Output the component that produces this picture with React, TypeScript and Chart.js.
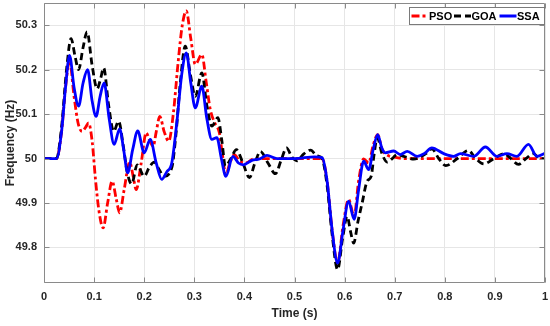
import React, { useEffect, useRef } from "react";
import { Chart, registerables } from "chart.js";

Chart.register(...registerables);

// ---- data ----
const ssaT = [0, 0.025, 0.035, 0.043, 0.051, 0.06, 0.069, 0.078, 0.087, 0.096, 0.104, 0.112, 0.12, 0.13, 0.14, 0.151, 0.159, 0.167, 0.177, 0.187, 0.2, 0.212, 0.224, 0.235, 0.245, 0.255, 0.265, 0.275, 0.284, 0.293, 0.302, 0.315, 0.325, 0.335, 0.345, 0.354, 0.363, 0.377, 0.388, 0.398, 0.415, 0.43, 0.445, 0.465, 0.5, 0.54, 0.555, 0.565, 0.575, 0.586, 0.597, 0.608, 0.619, 0.628, 0.638, 0.648, 0.657, 0.666, 0.674, 0.681, 0.698, 0.711, 0.725, 0.745, 0.76, 0.774, 0.798, 0.818, 0.831, 0.858, 0.881, 0.904, 0.924, 0.944, 0.967, 0.984, 1.0];
const ssaF = [50, 50, 50.06, 50.16, 50.232, 50.16, 50.118, 50.17, 50.2, 50.13, 50.095, 50.14, 50.17, 50.09, 50.032, 50.067, 50.02, 49.968, 50.02, 50.062, 50.013, 50.043, 49.99, 49.953, 49.97, 49.99, 50.08, 50.19, 50.238, 50.17, 50.114, 50.163, 50.09, 50.043, 50.047, 50.0, 49.96, 50.005, 49.99, 49.986, 49.996, 49.999, 50.007, 50.0, 50.0, 50.004, 50.002, 49.95, 49.84, 49.765, 49.84, 49.904, 49.863, 49.93, 49.994, 49.975, 50.02, 50.054, 50.025, 50.013, 50.017, 50.009, 50.016, 50.005, 50.012, 50.024, 50.011, 50.005, 50.011, 50.005, 50.026, 50.005, 50.011, 50.005, 50.032, 50.005, 50.012];

const psoT = [0, 0.025, 0.035, 0.043, 0.051, 0.06, 0.068, 0.076, 0.083, 0.089, 0.096, 0.103, 0.11, 0.118, 0.127, 0.136, 0.144, 0.151, 0.16, 0.171, 0.178, 0.184, 0.194, 0.204, 0.211, 0.218, 0.224, 0.231, 0.24, 0.249, 0.258, 0.268, 0.276, 0.284, 0.293, 0.302, 0.315, 0.324, 0.332, 0.341, 0.35, 0.356, 0.363, 0.371, 0.38, 0.39, 0.402, 0.42, 0.555, 0.565, 0.575, 0.586, 0.597, 0.608, 0.619, 0.628, 0.638, 0.648, 0.657, 0.666, 0.675, 0.685, 0.7, 0.72, 1.0];
const psoF = [50, 50, 50.06, 50.16, 50.22, 50.14, 50.08, 50.061, 50.07, 50.08, 50.04, 49.95, 49.88, 49.844, 49.9, 49.949, 49.91, 49.878, 49.93, 49.992, 49.96, 49.93, 49.99, 50.058, 50.04, 50.028, 50.06, 50.095, 50.06, 50.039, 50.1, 50.22, 50.3, 50.332, 50.27, 50.212, 50.234, 50.17, 50.11, 50.08, 50.058, 50.01, 49.964, 49.99, 50.009, 49.995, 49.99, 50.0, 50.0, 49.95, 49.84, 49.765, 49.85, 49.908, 49.87, 49.95, 49.999, 49.99, 50.03, 50.054, 50.02, 50.008, 50.003, 50.0, 50.0];

const goaT = [0, 0.025, 0.035, 0.045, 0.054, 0.062, 0.069, 0.078, 0.086, 0.096, 0.106, 0.113, 0.119, 0.129, 0.139, 0.149, 0.158, 0.166, 0.175, 0.186, 0.2, 0.21, 0.22, 0.23, 0.239, 0.255, 0.263, 0.272, 0.282, 0.292, 0.302, 0.315, 0.325, 0.335, 0.347, 0.355, 0.362, 0.373, 0.384, 0.397, 0.41, 0.421, 0.432, 0.447, 0.462, 0.473, 0.484, 0.495, 0.505, 0.518, 0.532, 0.545, 0.555, 0.565, 0.575, 0.586, 0.596, 0.605, 0.612, 0.618, 0.627, 0.635, 0.645, 0.653, 0.659, 0.665, 0.675, 0.685, 0.695, 0.705, 0.718, 0.738, 0.765, 0.774, 0.788, 0.802, 0.825, 0.847, 0.862, 0.878, 0.898, 0.918, 0.932, 0.947, 0.962, 0.977, 0.99, 1.0];
const goaF = [50, 50, 50.07, 50.2, 50.27, 50.23, 50.2, 50.25, 50.285, 50.21, 50.157, 50.18, 50.204, 50.12, 50.061, 50.084, 50.03, 49.97, 49.943, 49.986, 49.96, 49.98, 49.992, 49.975, 49.96, 49.979, 50.05, 50.17, 50.253, 50.19, 50.14, 50.193, 50.12, 50.073, 50.092, 50.04, 49.983, 50.0, 50.02, 49.99, 49.957, 49.99, 50.016, 49.99, 49.966, 49.995, 50.024, 50.003, 49.995, 50.01, 50.019, 50.006, 50.0, 49.94, 49.83, 49.75, 49.82, 49.87, 49.835, 49.81, 49.86, 49.9, 49.949, 49.96, 50.01, 50.047, 50.01, 49.992, 50.0, 50.009, 50.005, 49.999, 50.013, 50.022, 50.0, 49.984, 50.0, 50.018, 50.0, 49.988, 50.0, 50.011, 50.0, 49.987, 50.0, 50.011, 50.0, 50.0];

const xTicks = [0, 0.1, 0.2, 0.3, 0.4, 0.5, 0.6, 0.7, 0.8, 0.9, 1];
const yTicks = [49.8, 49.9, 50, 50.1, 50.2, 50.3];
const seriesNames = ["PSO", "GOA", "SSA"];

const FONT = "'Liberation Sans', Arial, Helvetica, sans-serif";
const styles = [
  { color: "#ff0000", dash: [8, 3, 3, 3] },
  { color: "#000000", dash: [7, 4] },
  { color: "#0000ff", dash: [] as number[] },
];

const toPts = (t: number[], f: number[]) => t.map((x, i) => ({ x, y: f[i] }));

const boxPlugin = {
  id: "matlabBox",
  afterDraw(chart: any) {
    const { ctx, chartArea: a, scales } = chart;
    ctx.save();
    ctx.strokeStyle = "#8a8a8a";
    ctx.lineWidth = 1;
    ctx.beginPath();
    const L = Math.round(a.left) + 0.5, R = Math.round(a.right) - 0.5;
    const T = Math.round(a.top) + 0.5, B = Math.round(a.bottom) - 0.5;
    ctx.rect(L, T, R - L, B - T);
    for (const v of xTicks) {
      const px = Math.round(scales.x.getPixelForValue(v)) + 0.5;
      ctx.moveTo(px, T); ctx.lineTo(px, T + 5);
      ctx.moveTo(px, B); ctx.lineTo(px, B - 5);
    }
    for (const v of yTicks) {
      const py = Math.round(scales.y.getPixelForValue(v)) + 0.5;
      ctx.moveTo(L, py); ctx.lineTo(L + 5, py);
      ctx.moveTo(R, py); ctx.lineTo(R - 5, py);
    }
    ctx.stroke();

    // legend (MATLAB style, top-right inside the axes)
    ctx.font = `bold 11px ${FONT}`;
    const bw = 136;
    const bx = Math.round(R - bw) + 0.5;
    const by = 7.5, bh = 17;
    ctx.fillStyle = "#ffffff";
    ctx.fillRect(bx, by, R - bx, bh);
    ctx.strokeStyle = "#7a7a7a";
    ctx.strokeRect(bx, by, R - bx, bh);
    const lineStarts = [2, 44.5, 90];
    const lineLen = 17;
    const cy = by + bh / 2;
    seriesNames.forEach((n, i) => {
      const x = bx + lineStarts[i];
      ctx.beginPath();
      ctx.strokeStyle = styles[i].color;
      ctx.lineWidth = 3;
      ctx.setLineDash(styles[i].dash);
      ctx.moveTo(x, cy); ctx.lineTo(x + lineLen, cy);
      ctx.stroke();
      ctx.setLineDash([]);
      ctx.fillStyle = "#000000";
      ctx.textBaseline = "middle";
      ctx.textAlign = "left";
      ctx.fillText(n, x + lineLen + 0.5, cy + 0.5);
    });
    ctx.restore();
  },
};

export default function App() {
  const ref = useRef<HTMLCanvasElement>(null);
  useEffect(() => {
    document.body.style.margin = "0";
    const series = [toPts(psoT, psoF), toPts(goaT, goaF), toPts(ssaT, ssaF)];
    const chart = new Chart(ref.current!, {
      type: "line",
      data: {
        datasets: series.map((d, i) => ({
          label: seriesNames[i],
          data: d,
          borderColor: styles[i].color,
          borderDash: styles[i].dash,
          borderWidth: 2.8,
          pointRadius: 0,
          cubicInterpolationMode: "monotone" as const,
          fill: false,
          order: 2 - i,
        })),
      },
      options: {
        responsive: false,
        animation: false,
        devicePixelRatio: 1,
        layout: { padding: { top: 3, right: 5, left: 0, bottom: 0 } },
        plugins: { legend: { display: false }, tooltip: { enabled: false } },
        scales: {
          x: {
            type: "linear",
            min: 0,
            max: 1,
            afterBuildTicks: (s: any) => { s.ticks = xTicks.map((v) => ({ value: v })); },
            afterFit: (s: any) => { s.height = 43; s.paddingLeft = 0; s.paddingRight = 0; },
            grid: { color: "#e6e6e6", drawTicks: false },
            border: { display: false },
            ticks: {
              padding: 7,
              maxRotation: 0,
              autoSkip: false,
              color: "#262626",
              font: { family: FONT, size: 11, weight: "bold" },
              callback: (v: any) => String(Number(Number(v).toFixed(1))),
            },
            title: {
              display: true,
              text: "Time (s)",
              color: "#262626",
              font: { family: FONT, size: 12, weight: "bold" },
              padding: { top: 0, bottom: 5 },
            },
          },
          y: {
            type: "linear",
            min: 49.72,
            max: 50.35,
            afterBuildTicks: (s: any) => { s.ticks = yTicks.map((v) => ({ value: v })); },
            afterFit: (s: any) => { s.width = 44; s.paddingTop = 0; s.paddingBottom = 0; },
            grid: { color: "#e6e6e6", drawTicks: false },
            border: { display: false },
            ticks: {
              padding: 7,
              autoSkip: false,
              color: "#262626",
              font: { family: FONT, size: 11, weight: "bold" },
              callback: (v: any) => String(Number(Number(v).toFixed(1))),
            },
            title: {
              display: true,
              text: "Frequency (Hz)",
              color: "#262626",
              font: { family: FONT, size: 12, weight: "bold" },
              padding: { top: 3, bottom: 0 },
            },
          },
        },
      },
      plugins: [boxPlugin],
    });
    return () => chart.destroy();
  }, []);
  return (
    <div style={{ width: 550, height: 326 }}>
      <canvas ref={ref} width={550} height={326} style={{ display: "block" }} />
    </div>
  );
}
